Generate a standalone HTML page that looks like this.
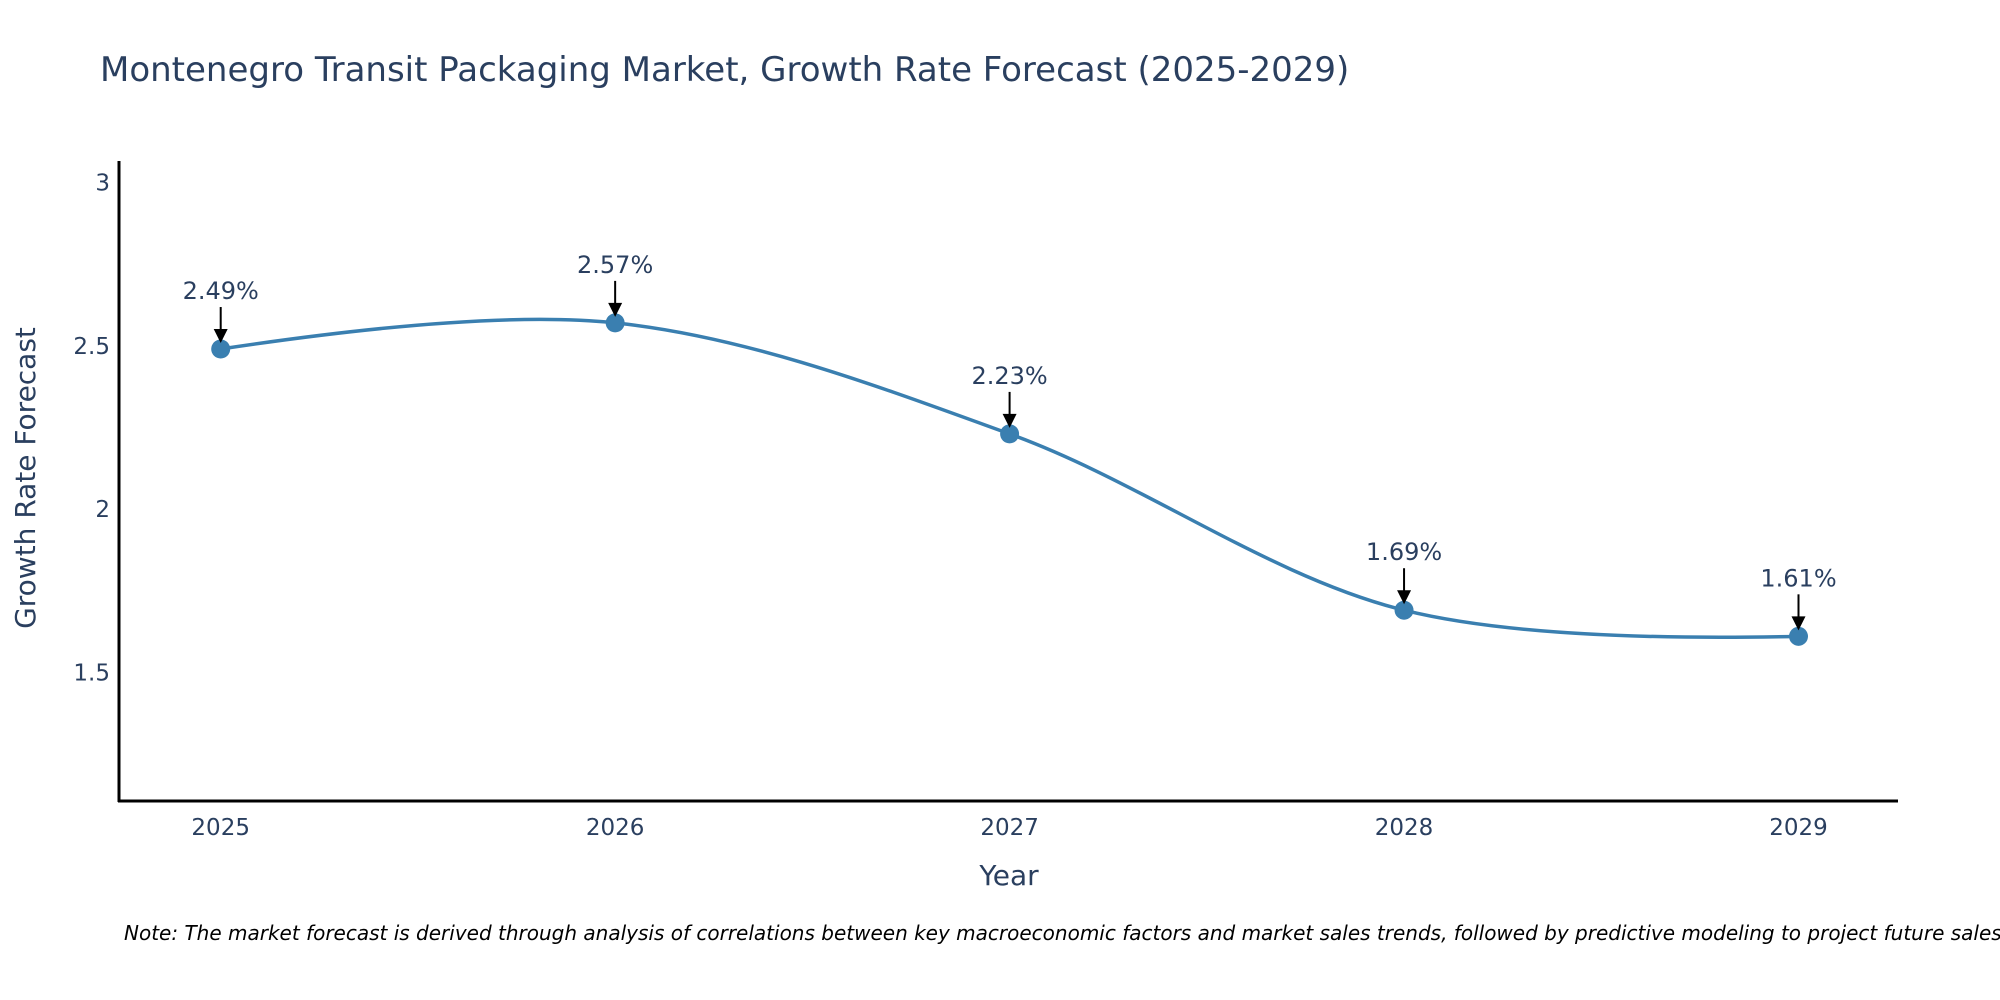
<!DOCTYPE html>
<html><head><meta charset="utf-8"><style>
html,body{margin:0;padding:0;background:#fff;}
svg{display:block;font-family:"DejaVu Sans","Liberation Sans",sans-serif;}
</style></head><body>
<svg id="chart" width="2000" height="1000" viewBox="0 0 2000 1000" xmlns="http://www.w3.org/2000/svg">
<text x="100" y="81" font-size="34" fill="#2a3f5f">Montenegro Transit Packaging Market, Growth Rate Forecast (2025-2029)</text>
<g id="yticks"></g><g id="xticks"></g>
<line x1="119" y1="161" x2="119" y2="802" stroke="#000" stroke-width="3"/>
<line x1="118" y1="801" x2="1898" y2="801" stroke="#000" stroke-width="3"/>
<path id="line" fill="none" stroke="#3a7fb0" stroke-width="3.5"/>
<g id="points"></g><g id="annos"></g>
<text x="1009" y="885" font-size="28" fill="#2a3f5f" text-anchor="middle">Year</text>
<text transform="translate(35,478) rotate(-90)" font-size="28" fill="#2a3f5f" text-anchor="middle">Growth Rate Forecast</text>
<text x="124" y="940" font-size="20" font-style="italic" fill="#000">Note: The market forecast is derived through analysis of correlations between key macroeconomic factors and market sales trends, followed by predictive modeling to project future sales.</text>
</svg>
<script>
const years=[2025,2026,2027,2028,2029];
const values=[2.49,2.57,2.23,1.69,1.61];
const labels=["2.49%","2.57%","2.23%","1.69%","1.61%"];
const yTicks=[1.5,2,2.5,3];
const NS="http://www.w3.org/2000/svg";
function xs(y){return 220.7+(y-2025)*394.45;}
function ys(v){return 509-(v-2)*326.5;}
function mk(t,a,p){const e=document.createElementNS(NS,t);for(const k in a)e.setAttribute(k,a[k]);p.appendChild(e);return e;}
const yg=document.getElementById('yticks');
yTicks.forEach(v=>{const t=mk('text',{x:110,y:ys(v)+8,'font-size':23,fill:'#2a3f5f','text-anchor':'end'},yg);


t.textContent=String(v);});
const xg=document.getElementById('xticks');
years.forEach(y=>{const t=mk('text',{x:xs(y),y:835,'font-size':23,fill:'#2a3f5f','text-anchor':'middle'},xg);


t.textContent=String(y);});
const P=years.map((y,i)=>[xs(y),ys(values[i])]);
function tangent(a,b,c,s){const d1x=a[0]-b[0],d1y=a[1]-b[1],d2x=c[0]-b[0],d2y=c[1]-b[1];
const d1a=Math.pow(d1x*d1x+d1y*d1y,0.25),d2a=Math.pow(d2x*d2x+d2y*d2y,0.25);
const nx=(d2a*d2a*d1x-d1a*d1a*d2x)*s,ny=(d2a*d2a*d1y-d1a*d1a*d2y)*s;
const e1=3*d2a*(d1a+d2a),e2=3*d1a*(d1a+d2a);
return [[b[0]+nx/e1,b[1]+ny/e1],[b[0]-nx/e2,b[1]-ny/e2]];}
const T=[];for(let i=1;i<P.length-1;i++)T.push(tangent(P[i-1],P[i],P[i+1],1));
let d=`M${P[0]} Q${T[0][0]} ${P[1]}`;
for(let i=1;i<P.length-2;i++)d+=` C${T[i-1][1]} ${T[i][0]} ${P[i+1]}`;
d+=` Q${T[T.length-1][1]} ${P[P.length-1]}`;
document.getElementById('line').setAttribute('d',d);
const pg=document.getElementById('points'),ag=document.getElementById('annos');
P.forEach((p,i)=>{const c=mk('circle',{cx:p[0],cy:p[1],r:9.5,fill:'#3a7fb0'},pg);


const l=mk('line',{x1:p[0],y1:p[1]-42,x2:p[0],y2:p[1]-18,stroke:'#000','stroke-width':2},ag);


const h=mk('polygon',{points:`${p[0]-7},${p[1]-20} ${p[0]+7},${p[1]-20} ${p[0]},${p[1]-6}`,fill:'#000'},ag);


const t=mk('text',{x:p[0],y:p[1]-50,'font-size':24,fill:'#2a3f5f','text-anchor':'middle'},ag);


t.textContent=labels[i];});
</script>
</body></html>
